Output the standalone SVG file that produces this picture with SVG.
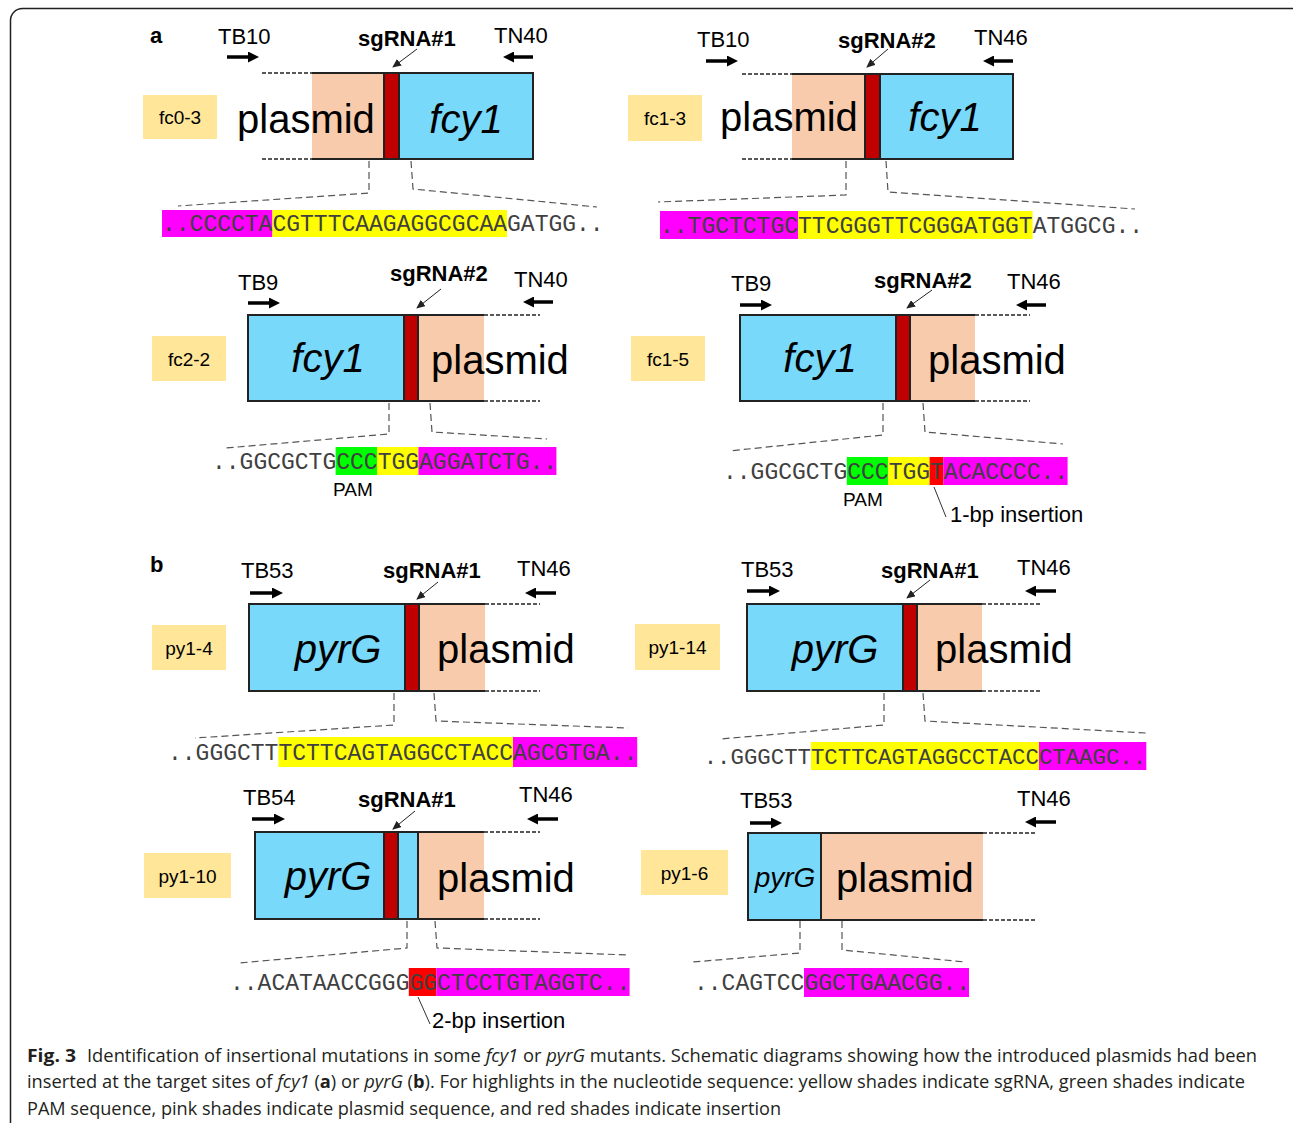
<svg xmlns="http://www.w3.org/2000/svg" width="1293" height="1123" viewBox="0 0 1293 1123">
<style>
.lbl{font-family:"Liberation Sans",Arial,sans-serif;font-size:22px;fill:#000}
.sg{font-family:"Liberation Sans",Arial,sans-serif;font-size:22px;font-weight:bold;fill:#000}
.big{font-family:"Liberation Sans",Arial,sans-serif;font-size:40px;fill:#000}
.gene{font-family:"Liberation Sans",Arial,sans-serif;font-size:40px;font-style:italic;fill:#000}
.tag{fill:#FFE699}
.tagt{font-family:"Liberation Sans",Arial,sans-serif;font-size:19px;fill:#000;text-anchor:middle}
.seq{font-family:"Liberation Mono","Courier New",monospace;font-size:23px;fill:#404040}
.blue{fill:#79D9FB;stroke:#222;stroke-width:2}
.red{fill:#C00000;stroke:#222;stroke-width:2}
.peach{fill:#F8CBAD}
.solid{stroke:#222;stroke-width:2;fill:none}
.dash{stroke:#222;stroke-width:1.5;stroke-dasharray:4 2;fill:none}
.zoomline{stroke:#555;stroke-width:1.2;stroke-dasharray:7 4;fill:none}
.primer{stroke:#000;stroke-width:3.5;marker-end:url(#head)}
.ptr{stroke:#222;stroke-width:1;marker-end:url(#thin)}
.ins{stroke:#333;stroke-width:1}
.cap{font-family:"Open Sans","Noto Sans",sans-serif;font-size:18px;fill:#231F20}
</style>
<defs>
<marker id="head" markerUnits="userSpaceOnUse" viewBox="0 0 11 11" markerWidth="11" markerHeight="11" refX="1" refY="5.5" orient="auto"><path d="M0,0 L11,5.5 L0,11 z" fill="#000"/></marker>
<marker id="thin" markerUnits="userSpaceOnUse" viewBox="0 0 9 8" markerWidth="9" markerHeight="8" refX="8" refY="4" orient="auto"><path d="M0,0 L9,4 L0,8 z" fill="#222"/></marker>
</defs>
<rect x="0" y="0" width="1293" height="1123" fill="#fff"/>
<rect x="10.5" y="8.5" width="1300" height="1200" rx="12" fill="none" stroke="#231F20" stroke-width="1.5"/>

<text x="150" y="43" class="sg">a</text>
<text x="150" y="572" class="sg">b</text>

<!-- fc0-3 -->
<g id="fc0-3">
<rect class="tag" x="143" y="95" width="74" height="44"/>
<text class="tagt" x="180" y="124">fc0-3</text>
<text class="lbl" x="218" y="44">TB10</text>
<line class="primer" x1="227" y1="57" x2="249" y2="57"/>
<text class="sg" x="358" y="46">sgRNA#1</text>
<text class="lbl" x="494" y="43">TN40</text>
<line class="primer" x1="533" y1="57" x2="513" y2="57"/>
<line class="dash" x1="262" y1="73" x2="312" y2="73"/>
<line class="dash" x1="262" y1="159" x2="312" y2="159"/>
<rect class="peach" x="312" y="73" width="72" height="86"/>
<line class="solid" x1="312" y1="73" x2="384" y2="73"/>
<line class="solid" x1="312" y1="159" x2="384" y2="159"/>
<rect class="blue" x="399" y="73" width="134" height="86"/>
<rect class="red" x="384" y="73" width="15" height="86"/>
<text class="big" x="237" y="133">plasmid</text>
<text class="gene" x="466" y="133" text-anchor="middle">fcy1</text>
<rect x="162" y="210" width="110.4" height="27" fill="#FF00FF"/>
<rect x="272.4" y="210" width="234.6" height="27" fill="#FFFF00"/>
<text class="seq" x="162" y="231">..CCCCTACGTTTCAAGAGGCGCAAGATGG..</text>
</g>

<!-- fc1-3 -->
<g id="fc1-3">
<rect class="tag" x="628" y="95" width="74" height="46"/>
<text class="tagt" x="665" y="125">fc1-3</text>
<text class="lbl" x="697" y="47">TB10</text>
<line class="primer" x1="706" y1="61" x2="728" y2="61"/>
<text class="sg" x="838" y="48">sgRNA#2</text>
<text class="lbl" x="974" y="45">TN46</text>
<line class="primer" x1="1013" y1="61" x2="993" y2="61"/>
<line class="dash" x1="742" y1="74" x2="792" y2="74"/>
<line class="dash" x1="742" y1="159" x2="792" y2="159"/>
<rect class="peach" x="792" y="74" width="73" height="85"/>
<line class="solid" x1="792" y1="74" x2="865" y2="74"/>
<line class="solid" x1="792" y1="159" x2="865" y2="159"/>
<rect class="blue" x="880" y="74" width="133" height="85"/>
<rect class="red" x="865" y="74" width="15" height="85"/>
<text class="big" x="720" y="131">plasmid</text>
<text class="gene" x="945" y="131" text-anchor="middle">fcy1</text>
<rect x="660" y="211" width="138" height="28" fill="#FF00FF"/>
<rect x="798" y="211" width="234.6" height="28" fill="#FFFF00"/>
<text class="seq" x="660" y="233">..TGCTCTGCTTCGGGTTCGGGATGGTATGGCG..</text>
</g>

<!-- fc2-2 -->
<g id="fc2-2">
<rect class="tag" x="152" y="336" width="74" height="45"/>
<text class="tagt" x="189" y="366">fc2-2</text>
<text class="lbl" x="238" y="290">TB9</text>
<line class="primer" x1="248" y1="303" x2="270" y2="303"/>
<text class="sg" x="390" y="281">sgRNA#2</text>
<text class="lbl" x="514" y="287">TN40</text>
<line class="primer" x1="553" y1="302" x2="533" y2="302"/>
<rect class="peach" x="418" y="315" width="66" height="86"/>
<line class="solid" x1="418" y1="315" x2="484" y2="315"/>
<line class="solid" x1="418" y1="401" x2="484" y2="401"/>
<line class="dash" x1="484" y1="315" x2="540" y2="315"/>
<line class="dash" x1="484" y1="401" x2="540" y2="401"/>
<rect class="blue" x="248" y="315" width="156" height="86"/>
<rect class="red" x="404" y="315" width="14" height="86"/>
<text class="gene" x="328" y="372" text-anchor="middle">fcy1</text>
<text class="big" x="431" y="374">plasmid</text>
<rect x="335.6" y="447" width="41.4" height="28" fill="#00FF00"/>
<rect x="377" y="447" width="41.4" height="28" fill="#FFFF00"/>
<rect x="418.4" y="447" width="138" height="28" fill="#FF00FF"/>
<text class="seq" x="212" y="469">..GGCGCTGCCCTGGAGGATCTG..</text>
<text class="tagt" x="353" y="496">PAM</text>
</g>

<!-- fc1-5 -->
<g id="fc1-5">
<rect class="tag" x="631" y="336" width="74" height="45"/>
<text class="tagt" x="668" y="366">fc1-5</text>
<text class="lbl" x="731" y="291">TB9</text>
<line class="primer" x1="740" y1="305" x2="762" y2="305"/>
<text class="sg" x="874" y="288">sgRNA#2</text>
<text class="lbl" x="1007" y="289">TN46</text>
<line class="primer" x1="1046" y1="305" x2="1026" y2="305"/>
<rect class="peach" x="910" y="315" width="65" height="86"/>
<line class="solid" x1="910" y1="315" x2="975" y2="315"/>
<line class="solid" x1="910" y1="401" x2="975" y2="401"/>
<line class="dash" x1="975" y1="315" x2="1030" y2="315"/>
<line class="dash" x1="975" y1="401" x2="1030" y2="401"/>
<rect class="blue" x="740" y="315" width="156" height="86"/>
<rect class="red" x="896" y="315" width="14" height="86"/>
<text class="gene" x="820" y="372" text-anchor="middle">fcy1</text>
<text class="big" x="928" y="374">plasmid</text>
<rect x="846.8" y="457" width="41.4" height="28" fill="#00FF00"/>
<rect x="888.2" y="457" width="41.4" height="28" fill="#FFFF00"/>
<rect x="929.6" y="457" width="13.8" height="28" fill="#FF0000"/>
<rect x="943.4" y="457" width="124.2" height="28" fill="#FF00FF"/>
<text class="seq" x="723" y="479">..GGCGCTGCCCTGGTACACCCC..</text>
<text class="tagt" x="863" y="506">PAM</text>
<line class="ins" x1="934" y1="487" x2="946" y2="517"/>
<text class="lbl" x="950" y="522">1-bp insertion</text>
</g>

<!-- py1-4 -->
<g id="py1-4">
<rect class="tag" x="152" y="625" width="74" height="45"/>
<text class="tagt" x="189" y="655">py1-4</text>
<text class="lbl" x="241" y="578">TB53</text>
<line class="primer" x1="250" y1="593" x2="273" y2="593"/>
<text class="sg" x="383" y="578">sgRNA#1</text>
<text class="lbl" x="517" y="576">TN46</text>
<line class="primer" x1="556" y1="593" x2="535" y2="593"/>
<rect class="peach" x="419" y="604" width="66" height="87"/>
<line class="solid" x1="419" y1="604" x2="485" y2="604"/>
<line class="solid" x1="419" y1="691" x2="485" y2="691"/>
<line class="dash" x1="485" y1="604" x2="540" y2="604"/>
<line class="dash" x1="485" y1="691" x2="540" y2="691"/>
<rect class="blue" x="249" y="604" width="156" height="87"/>
<rect class="red" x="405" y="604" width="14" height="87"/>
<text class="gene" x="338" y="663" text-anchor="middle">pyrG</text>
<text class="big" x="437" y="663">plasmid</text>
<rect x="278.4" y="737" width="234.6" height="30" fill="#FFFF00"/>
<rect x="513" y="737" width="124.2" height="30" fill="#FF00FF"/>
<text class="seq" x="168" y="760">..GGGCTTTCTTCAGTAGGCCTACCAGCGTGA..</text>
</g>

<!-- py1-14 -->
<g id="py1-14">
<rect class="tag" x="635" y="624" width="85" height="46"/>
<text class="tagt" x="677.5" y="654">py1-14</text>
<text class="lbl" x="741" y="577">TB53</text>
<line class="primer" x1="747" y1="591" x2="770" y2="591"/>
<text class="sg" x="881" y="578">sgRNA#1</text>
<text class="lbl" x="1017" y="575">TN46</text>
<line class="primer" x1="1056" y1="591" x2="1035" y2="591"/>
<rect class="peach" x="917" y="604" width="65" height="87"/>
<line class="solid" x1="917" y1="604" x2="982" y2="604"/>
<line class="solid" x1="917" y1="691" x2="982" y2="691"/>
<line class="dash" x1="982" y1="604" x2="1040" y2="604"/>
<line class="dash" x1="982" y1="691" x2="1040" y2="691"/>
<rect class="blue" x="747" y="604" width="156" height="87"/>
<rect class="red" x="903" y="604" width="14" height="87"/>
<text class="gene" x="835" y="663" text-anchor="middle">pyrG</text>
<text class="big" x="935" y="663">plasmid</text>
<rect x="811" y="742" width="228" height="28" fill="#FFFF00"/>
<rect x="1039" y="742" width="107.3" height="28" fill="#FF00FF"/>
<text class="seq" x="703.7" y="764" style="font-size:22.35px">..GGGCTTTCTTCAGTAGGCCTACCCTAAGC..</text>
</g>

<!-- py1-10 -->
<g id="py1-10">
<rect class="tag" x="144" y="853" width="87" height="45"/>
<text class="tagt" x="187.5" y="883">py1-10</text>
<text class="lbl" x="243" y="805">TB54</text>
<line class="primer" x1="252" y1="819" x2="275" y2="819"/>
<text class="sg" x="358" y="807">sgRNA#1</text>
<text class="lbl" x="519" y="802">TN46</text>
<line class="primer" x1="558" y1="819" x2="537" y2="819"/>
<rect class="peach" x="418" y="832" width="66" height="87"/>
<line class="solid" x1="418" y1="832" x2="484" y2="832"/>
<line class="solid" x1="418" y1="919" x2="484" y2="919"/>
<line class="dash" x1="484" y1="832" x2="540" y2="832"/>
<line class="dash" x1="484" y1="919" x2="540" y2="919"/>
<rect class="blue" x="255" y="832" width="163" height="87"/>
<rect class="red" x="384" y="832" width="14" height="87"/>
<text class="gene" x="328" y="890" text-anchor="middle">pyrG</text>
<text class="big" x="437" y="892">plasmid</text>
<rect x="408.8" y="968" width="27.6" height="28" fill="#FF0000"/>
<rect x="436.4" y="968" width="193.2" height="28" fill="#FF00FF"/>
<text class="seq" x="230" y="990">..ACATAACCGGGGGCTCCTGTAGGTC..</text>
<line class="ins" x1="418" y1="997" x2="430" y2="1024"/>
<text class="lbl" x="432" y="1028">2-bp insertion</text>
</g>

<!-- py1-6 -->
<g id="py1-6">
<rect class="tag" x="641" y="850" width="87" height="45"/>
<text class="tagt" x="684.5" y="880">py1-6</text>
<text class="lbl" x="740" y="808">TB53</text>
<line class="primer" x1="750" y1="823" x2="772" y2="823"/>
<text class="lbl" x="1017" y="806">TN46</text>
<line class="primer" x1="1056" y1="822" x2="1035" y2="822"/>
<rect class="peach" x="821" y="833" width="162" height="87"/>
<line class="solid" x1="821" y1="833" x2="983" y2="833"/>
<line class="solid" x1="821" y1="920" x2="983" y2="920"/>
<line class="dash" x1="983" y1="833" x2="1037" y2="833"/>
<line class="dash" x1="983" y1="920" x2="1037" y2="920"/>
<rect class="blue" x="748" y="833" width="73" height="87"/>
<text class="gene" x="785" y="887" text-anchor="middle" style="font-size:28px">pyrG</text>
<text class="big" x="836" y="892">plasmid</text>
<rect x="804" y="968" width="165" height="29" fill="#FF00FF"/>
<text class="seq" x="694" y="990">..CAGTCCGGCTGAACGG..</text>
</g>

<g id="connectors">
<line class="ptr" x1="417" y1="49" x2="393" y2="67"/>
<line class="ptr" x1="888" y1="49" x2="867" y2="67"/>
<line class="ptr" x1="441" y1="289" x2="417" y2="308"/>
<line class="ptr" x1="932" y1="290" x2="907" y2="308"/>
<line class="ptr" x1="438" y1="582" x2="417" y2="599"/>
<line class="ptr" x1="930" y1="580" x2="907" y2="598"/>
<line class="ptr" x1="415" y1="811" x2="393" y2="829"/>
<path class="zoomline" d="M369 161 V193 L178 206"/>
<path class="zoomline" d="M411 161 L413 189 L597 207"/>
<path class="zoomline" d="M846 161 V195 L658 202"/>
<path class="zoomline" d="M886 161 L888 192 L1135 209"/>
<path class="zoomline" d="M389 403 V434 L226 448"/>
<path class="zoomline" d="M430 403 L432 432 L547 439"/>
<path class="zoomline" d="M883 403 V435 L729 451"/>
<path class="zoomline" d="M923 403 L925 432 L1063 444"/>
<path class="zoomline" d="M394 693 V725 L195 738"/>
<path class="zoomline" d="M434 693 L436 721 L628 728"/>
<path class="zoomline" d="M884 693 V725 L720 739"/>
<path class="zoomline" d="M923 693 L925 721 L1146 733"/>
<path class="zoomline" d="M407 921 V948 L239 963"/>
<path class="zoomline" d="M435 921 L437 948 L628 955"/>
<path class="zoomline" d="M800 921 V953 L693 962"/>
<path class="zoomline" d="M842 921 V950 L965 962"/>
</g>

<g id="caption">
<text class="cap" x="27" y="1062" font-weight="bold" textLength="49" lengthAdjust="spacingAndGlyphs">Fig. 3</text>
<text class="cap" x="87" y="1062" textLength="1170" lengthAdjust="spacingAndGlyphs">Identification of insertional mutations in some <tspan font-style="italic">fcy1</tspan> or <tspan font-style="italic">pyrG</tspan> mutants. Schematic diagrams showing how the introduced plasmids had been</text>
<text class="cap" x="27" y="1088" textLength="1218" lengthAdjust="spacingAndGlyphs">inserted at the target sites of <tspan font-style="italic">fcy1</tspan> (<tspan font-weight="bold">a</tspan>) or <tspan font-style="italic">pyrG</tspan> (<tspan font-weight="bold">b</tspan>). For highlights in the nucleotide sequence: yellow shades indicate sgRNA, green shades indicate</text>
<text class="cap" x="27" y="1115" textLength="754" lengthAdjust="spacingAndGlyphs">PAM sequence, pink shades indicate plasmid sequence, and red shades indicate insertion</text>
</g>
</svg>
